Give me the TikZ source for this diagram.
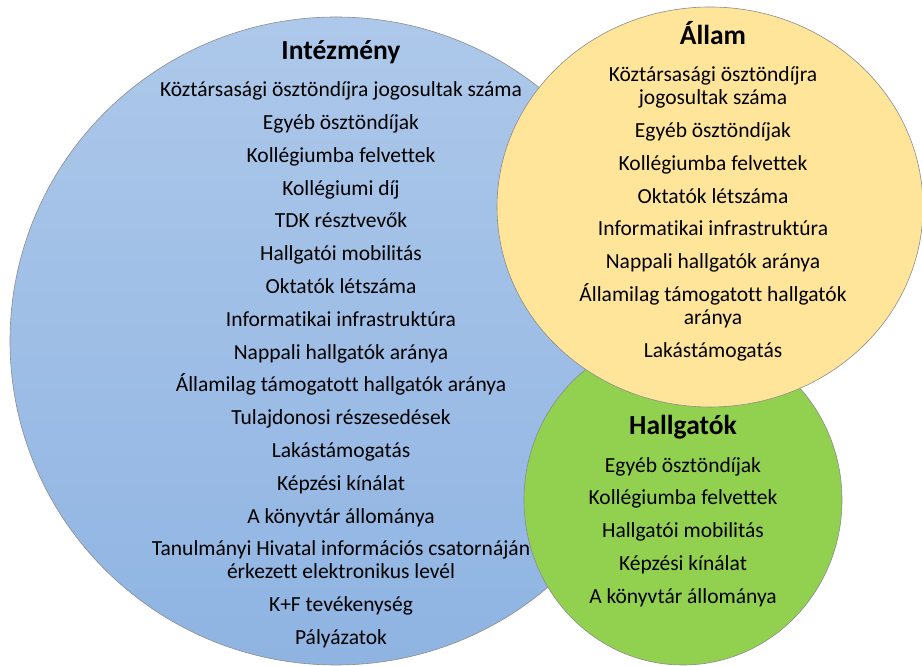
\documentclass[tikz,border=0pt]{standalone}
\usepackage{fontspec}
\setmainfont{Carlito}[Ligatures=NoCommon]
\usetikzlibrary{positioning}
\definecolor{intblue}{RGB}{173,200,234}
\definecolor{intblueb}{RGB}{143,180,226}
\definecolor{allamyellow}{RGB}{255,229,153}
\definecolor{hallgreen}{RGB}{146,208,80}
\tikzset{
  venn/.style={draw=black!45, line width=0.6pt},
  title/.style={font=\fontsize{27.5}{30}\selectfont\bfseries, inner sep=0pt, anchor=base},
  lst/.style={align=center, font=\fontsize{21.5}{23}\selectfont, inner sep=0pt, anchor=north}
}
\begin{document}
\begin{tikzpicture}[x=1pt, y=1pt]
        \useasboundingbox (0,0) rectangle (922,666);

        % Intezmeny
        \path[venn, top color=intblue, bottom color=intblueb] (336,325) ellipse [x radius=326pt, y radius=324pt];
        \node[title] (int) at (341,606) {Intézmény};
        \node[lst] (intlist) at (341,584.5) {Köztársasági ösztöndíjra jogosultak száma\\[9.8pt]
            Egyéb ösztöndíjak\\[9.8pt]
            Kollégiumba felvettek\\[9.8pt]
            Kollégiumi díj\\[9.8pt]
            TDK résztvevők\\[9.8pt]
            Hallgatói mobilitás\\[9.8pt]
            Oktatók létszáma\\[9.8pt]
            Informatikai infrastruktúra\\[9.8pt]
            Nappali hallgatók aránya\\[9.8pt]
            Államilag támogatott hallgatók aránya\\[9.8pt]
            Tulajdonosi részesedések\\[9.8pt]
            Lakástámogatás\\[9.8pt]
            Képzési kínálat\\[9.8pt]
            A könyvtár állománya\\[9.8pt]
            Tanulmányi Hivatal információs csatornáján\\
            érkezett elektronikus levél\\[9.8pt]
            K+F tevékenység\\[9.8pt]
            Pályázatok};

        % Hallgatok
        \path[venn, fill=hallgreen] (683,166) ellipse [x radius=159pt, y radius=165pt];
        \node[title] (hall) at (683,231) {Hallgatók};
        \node[lst] (halllist) at (683,209) {Egyéb ösztöndíjak\\[9.8pt]
            Kollégiumba felvettek\\[9.8pt]
            Hallgatói mobilitás\\[9.8pt]
            Képzési kínálat\\[9.8pt]
            A könyvtár állománya};

        % Allam
        \path[venn, fill=allamyellow] (710,459) ellipse [x radius=213pt, y radius=200pt];
        \node[title] (allam) at (713,621) {Állam};
        \node[lst] (allamlist) at (713,599.5) {Köztársasági ösztöndíjra\\
            jogosultak száma\\[9.8pt]
            Egyéb ösztöndíjak\\[9.8pt]
            Kollégiumba felvettek\\[9.8pt]
            Oktatók létszáma\\[9.8pt]
            Informatikai infrastruktúra\\[9.8pt]
            Nappali hallgatók aránya\\[9.8pt]
            Államilag támogatott hallgatók\\
            aránya\\[9.8pt]
            Lakástámogatás};
\end{tikzpicture}
\end{document}
